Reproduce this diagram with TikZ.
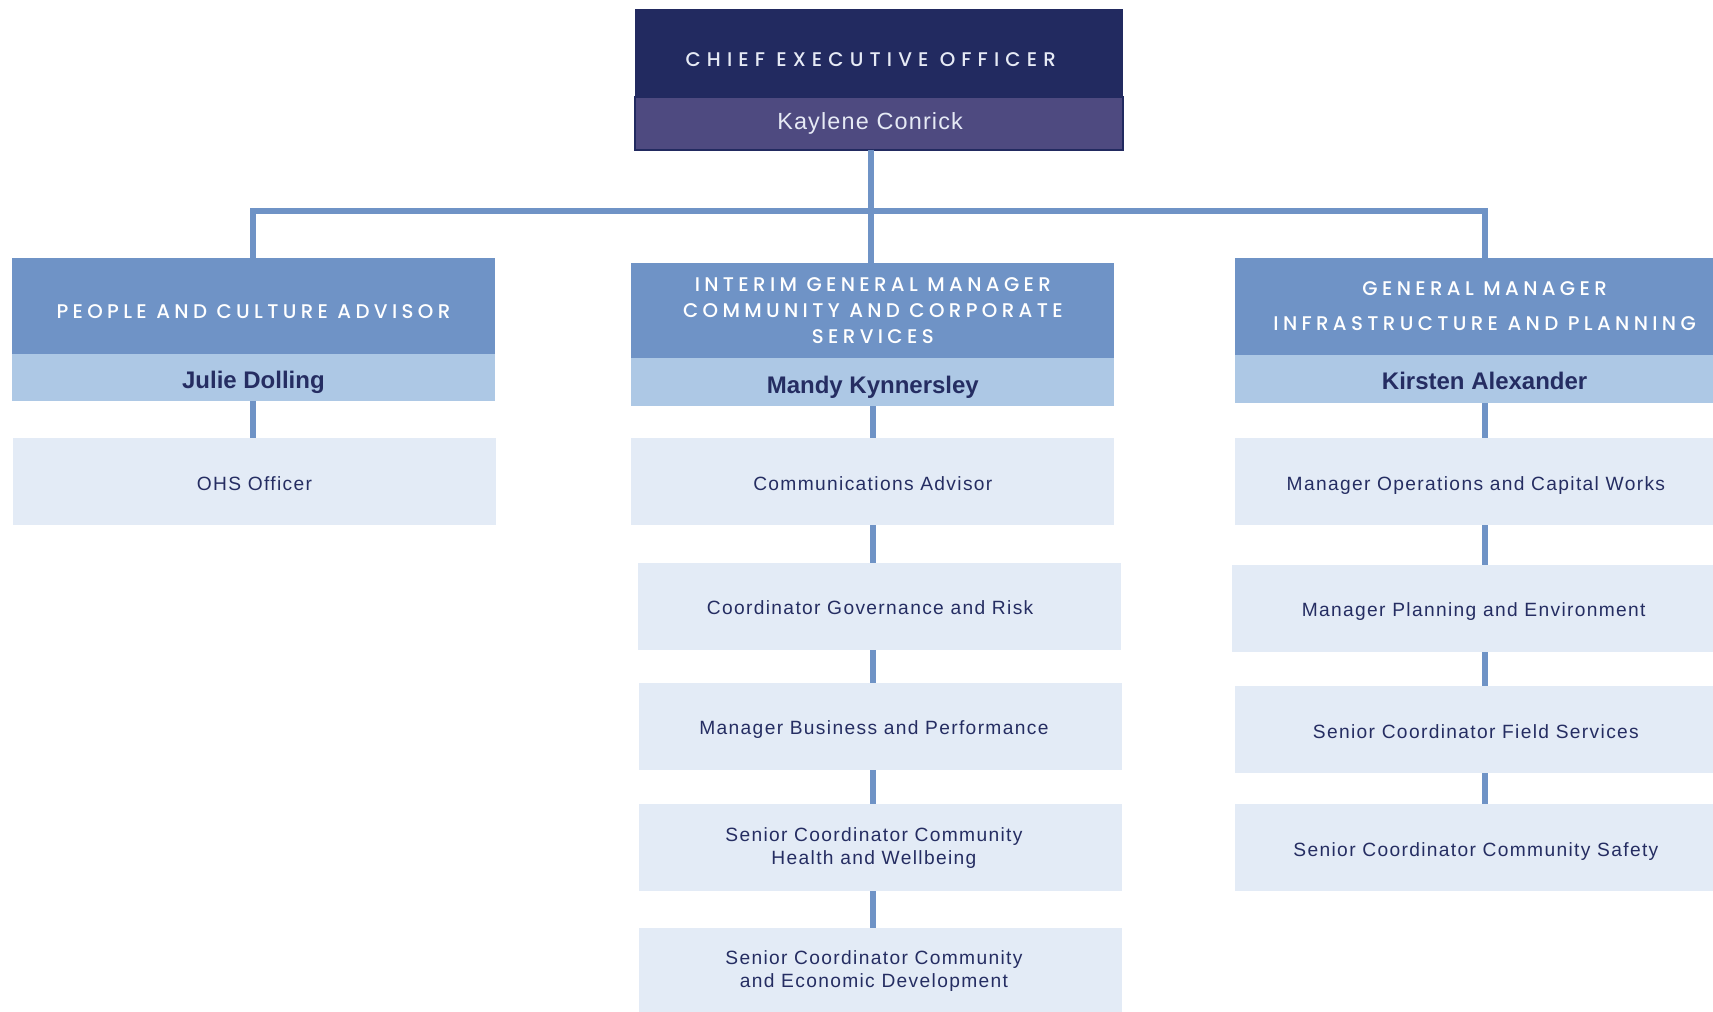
\documentclass[tikz,border=0pt]{standalone}
\usepackage{fontspec}
\setmainfont{Liberation Sans}
\newfontfamily\titlefont{Poppins}[UprightFont=* Medium, LetterSpace=22]
\newfontfamily\bodyfont{Liberation Sans}[LetterSpace=7]
\usepackage{tikz}
\usetikzlibrary{positioning}

\definecolor{ceodark}{HTML}{222A60}
\definecolor{ceoband}{HTML}{4E4A80}
\definecolor{ceotext}{HTML}{E6EAF5}
\definecolor{headblue}{HTML}{6F93C6}
\definecolor{bandblue}{HTML}{ADC8E5}
\definecolor{paleblue}{HTML}{E3EBF6}
\definecolor{navy}{HTML}{252D62}

\begin{document}
\begin{tikzpicture}[
  x=0.02cm, y=-0.02cm,
  every node/.style={inner sep=0pt, outer sep=0pt},
  ceo/.style={fill=ceodark, text=ceotext, minimum width=8.94cm, minimum height=1.62cm, text height=0.5cm,
    font={\titlefont\addfontfeature{LetterSpace=31}\fontsize{10.3}{13.7}\selectfont}},
  ceoname/.style={fill=ceoband, draw=ceodark, line width=1pt, text=ceotext, minimum width=8.94cm, minimum height=0.96cm,
    font={\addfontfeature{LetterSpace=5}\fontsize{12.2}{15}\selectfont}},
  head/.style={fill=headblue, text=white, minimum width=8.84cm, minimum height=1.76cm, align=center,
    font={\titlefont\fontsize{10.3}{13.7}\selectfont}},
  band/.style={fill=bandblue, text=navy, minimum width=8.84cm, minimum height=0.88cm, text height=11.2pt, text depth=0pt,
    font={\bfseries\fontsize{12.5}{15}\selectfont}},
  roleframe/.style={fill=paleblue, text=navy, minimum width=8.84cm, minimum height=1.6cm, align=center,
    font={\bodyfont\fontsize{10}{12}\selectfont}},
  role/.style={roleframe, text height=8.6pt, text depth=0pt},
  conn/.style={draw=headblue, line width=0.11cm}
]
\useasboundingbox (0,0) rectangle (1568,926);

% top
\node[ceo, anchor=north west] (ceo) at (581,8) {CHIEF EXECUTIVE OFFICER\hspace*{0.3cm}};
\node[ceoname, below=0pt of ceo] (kc) {Kaylene Conrick\hspace*{0.32cm}};

% left column
\node[head, anchor=north west, text height=13pt, text depth=0pt] (pca) at (11,236) {PEOPLE AND CULTURE ADVISOR};
\node[band, below=0pt of pca, minimum height=0.86cm] (jd) {Julie Dolling};
\node[role, anchor=north west] (ohs) at (12,401) {OHS Officer};

% centre column
\node[head, anchor=north west, minimum height=1.74cm] (gmcs) at (578,241) {INTERIM GENERAL MANAGER\\COMMUNITY AND CORPORATE\\SERVICES};
\node[band, below=0pt of gmcs] (mk) {Mandy Kynnersley};
\node[role, anchor=north west] (comm) at (578,401) {Communications Advisor};
\node[role, anchor=north west] (gov) at (584,515) {Coordinator Governance and Risk\hspace*{0.34cm}};
\node[role, anchor=north west] (biz) at (585,625) {Manager Business and Performance\hspace*{0.24cm}};
\node[roleframe, anchor=north west] (health) at (585,736) {Senior Coordinator Community\hspace*{0.24cm}\\Health and Wellbeing\hspace*{0.24cm}};
\node[roleframe, anchor=north west] (econ) at (585,849) {Senior Coordinator Community\hspace*{0.24cm}\\and Economic Development\hspace*{0.24cm}};

% right column
\node[head, anchor=north west, minimum width=9.16cm, minimum height=1.78cm] (gmip) at (1130,236) {GENERAL MANAGER\\[4.5pt]INFRASTRUCTURE AND PLANNING};
\node[band, below=0pt of gmip, minimum width=9.16cm] (ka) {Kirsten Alexander};
\node[role, anchor=north west] (ops) at (1130,401) {Manager Operations and Capital Works};
\node[role, anchor=north west] (pe) at (1128,517) {Manager Planning and Environment};
\node[role, anchor=north west] (fs) at (1130,628) {Senior Coordinator Field Services};
\node[role, anchor=north west] (cs) at (1130,736) {Senior Coordinator Community Safety};

% connectors
\coordinate (bar) at (797,193);
\draw[conn] (kc.south -| bar) -- (gmcs.north -| bar);
\draw[conn] (pca.north) |- (bar) -| (gmip.north);
\draw[conn] (jd.south) -- (ohs.north -| jd.south);
\foreach \a/\b in {mk/comm, comm/gov, gov/biz, biz/health, health/econ}
  \draw[conn] (\a.south -| mk.south) -- (\b.north -| mk.south);
\foreach \a/\b in {ka/ops, ops/pe, pe/fs, fs/cs}
  \draw[conn] (\a.south -| ka.south) -- (\b.north -| ka.south);
\end{tikzpicture}
\end{document}
